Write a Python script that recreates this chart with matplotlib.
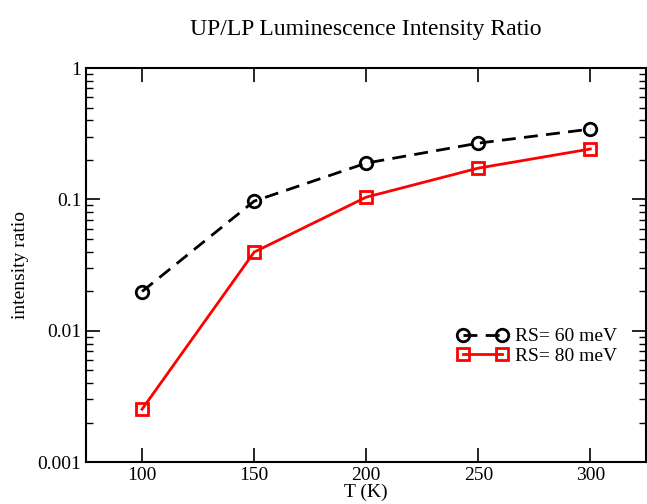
import numpy as np
import matplotlib.pyplot as plt

plt.rcParams['font.family'] = ['Liberation Serif', 'DejaVu Serif']

temps = [100, 150, 200, 250, 300]
ratio_60 = [0.0199, 0.097, 0.189, 0.268, 0.343]
ratio_80 = [0.00253, 0.0397, 0.104, 0.173, 0.242]

fig = plt.figure(figsize=(6.47, 5.04), dpi=100)
ax = fig.add_axes([0.133, 0.083, 0.866, 0.782])

ax.plot(temps, ratio_60, color='black', linestyle=(0, (5, 3)), linewidth=2,
        marker='o', markersize=9, markerfacecolor='none', markeredgewidth=2,
        label='RS= 60 meV')
ax.plot(temps, ratio_80, color='red', linestyle='-', linewidth=2,
        marker='s', markersize=8, markerfacecolor='none', markeredgewidth=2,
        label='RS= 80 meV')

ax.set_yscale('log')
ax.set_ylim(0.001, 1)
ax.set_xlim(75, 325)
ax.set_xticks(temps)
ax.set_yticks([0.001, 0.01, 0.1, 1])
ax.set_yticklabels(['0.001', '0.01', '0.1', '1'])

ax.tick_params(which='both', direction='in', top=True, right=True, labelsize=14)
ax.tick_params(which='major', length=10, width=1.2)
ax.tick_params(which='minor', length=5, width=1)
ax.tick_params(axis='x', which='minor', bottom=False, top=False)
for s in ax.spines.values():
    s.set_linewidth(1.5)

ax.set_xlabel('T (K)', fontsize=14, labelpad=0)
ax.set_ylabel('intensity ratio', fontsize=14, labelpad=6)
ax.set_title('UP/LP Luminescence Intensity Ratio', fontsize=17, pad=24)

ax.legend(loc='lower right', bbox_to_anchor=(0.965, 0.222), frameon=False,
          numpoints=2, fontsize=14, handlelength=2.6, handletextpad=0.35,
          labelspacing=0.1, borderpad=0)

fig.savefig('out.png', dpi=100)
